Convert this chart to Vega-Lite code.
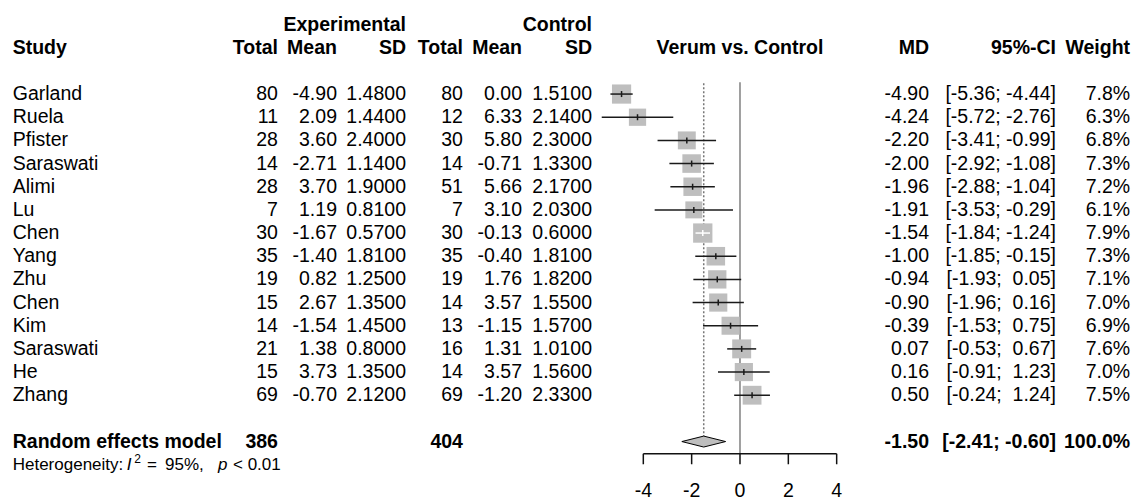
{
  "$schema": "https://vega.github.io/schema/vega-lite/v6.json",
  "width": 1135,
  "height": 501,
  "autosize": {"type": "fit", "contains": "padding"},
  "padding": 0,
  "background": "white",
  "config": {
    "view": {"stroke": null},
    "text": {"font": "Liberation Sans", "fontSize": 19.5, "color": "#000", "baseline": "middle"},
    "locale": {"number": {"decimal": ".", "thousands": ",", "grouping": [3], "currency": ["$", ""], "minus": "-"}}
  },
  "datasets": {
    "studies": [
      {"row": 1, "study": "Garland", "et": 80, "em": -4.90, "es": 1.48, "ct": 80, "cm": 0.00, "cs": 1.51, "md": -4.90, "lo": -5.36, "hi": -4.44, "w": 7.8},
      {"row": 2, "study": "Ruela", "et": 11, "em": 2.09, "es": 1.44, "ct": 12, "cm": 6.33, "cs": 2.14, "md": -4.24, "lo": -5.72, "hi": -2.76, "w": 6.3},
      {"row": 3, "study": "Pfister", "et": 28, "em": 3.60, "es": 2.40, "ct": 30, "cm": 5.80, "cs": 2.30, "md": -2.20, "lo": -3.41, "hi": -0.99, "w": 6.8},
      {"row": 4, "study": "Saraswati", "et": 14, "em": -2.71, "es": 1.14, "ct": 14, "cm": -0.71, "cs": 1.33, "md": -2.00, "lo": -2.92, "hi": -1.08, "w": 7.3},
      {"row": 5, "study": "Alimi", "et": 28, "em": 3.70, "es": 1.90, "ct": 51, "cm": 5.66, "cs": 2.17, "md": -1.96, "lo": -2.88, "hi": -1.04, "w": 7.2},
      {"row": 6, "study": "Lu", "et": 7, "em": 1.19, "es": 0.81, "ct": 7, "cm": 3.10, "cs": 2.03, "md": -1.91, "lo": -3.53, "hi": -0.29, "w": 6.1},
      {"row": 7, "study": "Chen", "et": 30, "em": -1.67, "es": 0.57, "ct": 30, "cm": -0.13, "cs": 0.60, "md": -1.54, "lo": -1.84, "hi": -1.24, "w": 7.9},
      {"row": 8, "study": "Yang", "et": 35, "em": -1.40, "es": 1.81, "ct": 35, "cm": -0.40, "cs": 1.81, "md": -1.00, "lo": -1.85, "hi": -0.15, "w": 7.3},
      {"row": 9, "study": "Zhu", "et": 19, "em": 0.82, "es": 1.25, "ct": 19, "cm": 1.76, "cs": 1.82, "md": -0.94, "lo": -1.93, "hi": 0.05, "w": 7.1},
      {"row": 10, "study": "Chen", "et": 15, "em": 2.67, "es": 1.35, "ct": 14, "cm": 3.57, "cs": 1.55, "md": -0.90, "lo": -1.96, "hi": 0.16, "w": 7.0},
      {"row": 11, "study": "Kim", "et": 14, "em": -1.54, "es": 1.45, "ct": 13, "cm": -1.15, "cs": 1.57, "md": -0.39, "lo": -1.53, "hi": 0.75, "w": 6.9},
      {"row": 12, "study": "Saraswati", "et": 21, "em": 1.38, "es": 0.80, "ct": 16, "cm": 1.31, "cs": 1.01, "md": 0.07, "lo": -0.53, "hi": 0.67, "w": 7.6},
      {"row": 13, "study": "He", "et": 15, "em": 3.73, "es": 1.35, "ct": 14, "cm": 3.57, "cs": 1.56, "md": 0.16, "lo": -0.91, "hi": 1.23, "w": 7.0},
      {"row": 14, "study": "Zhang", "et": 69, "em": -0.70, "es": 2.12, "ct": 69, "cm": -1.20, "cs": 2.33, "md": 0.50, "lo": -0.24, "hi": 1.24, "w": 7.5}
    ],
    "pooled": [{"et": 386, "ct": 404, "md": -1.50, "lo": -2.41, "hi": -0.60, "w": 100}],
    "ticks": [{"v": -4}, {"v": -2}, {"v": 0}, {"v": 2}, {"v": 4}],
    "one": [{}]
  },
  "layer": [
    {"data": {"name": "one"}, "mark": {"type": "text", "text": "Experimental", "align": "right", "fontWeight": "bold"},
     "encoding": {"x": {"datum": -13.819, "type": "quantitative", "scale": {"domain": [-30.616, 16.343], "nice": false, "zero": false}, "axis": null},
                  "y": {"datum": -2, "type": "quantitative", "scale": {"domain": [-3.06, 18.35], "nice": false, "zero": false, "reverse": true}, "axis": null}}},
    {"data": {"name": "one"}, "mark": {"type": "text", "text": "Control", "align": "right", "fontWeight": "bold"},
     "encoding": {"x": {"datum": -6.123, "type": "quantitative", "scale": {"domain": [-30.616, 16.343], "nice": false, "zero": false}, "axis": null},
                  "y": {"datum": -2, "type": "quantitative", "scale": {"domain": [-3.06, 18.35], "nice": false, "zero": false, "reverse": true}, "axis": null}}},
    {"data": {"name": "one"}, "mark": {"type": "text", "text": "Study", "align": "left", "fontWeight": "bold"},
     "encoding": {"x": {"datum": -30.09, "type": "quantitative", "scale": {"domain": [-30.616, 16.343], "nice": false, "zero": false}, "axis": null},
                  "y": {"datum": -1, "type": "quantitative", "scale": {"domain": [-3.06, 18.35], "nice": false, "zero": false, "reverse": true}, "axis": null}}},
    {"data": {"name": "one"}, "mark": {"type": "text", "text": "Total", "align": "right", "fontWeight": "bold"},
     "encoding": {"x": {"datum": -19.115, "type": "quantitative", "scale": {"domain": [-30.616, 16.343], "nice": false, "zero": false}, "axis": null},
                  "y": {"datum": -1, "type": "quantitative", "scale": {"domain": [-3.06, 18.35], "nice": false, "zero": false, "reverse": true}, "axis": null}}},
    {"data": {"name": "one"}, "mark": {"type": "text", "text": "Mean", "align": "right", "fontWeight": "bold"},
     "encoding": {"x": {"datum": -16.674, "type": "quantitative", "scale": {"domain": [-30.616, 16.343], "nice": false, "zero": false}, "axis": null},
                  "y": {"datum": -1, "type": "quantitative", "scale": {"domain": [-3.06, 18.35], "nice": false, "zero": false, "reverse": true}, "axis": null}}},
    {"data": {"name": "one"}, "mark": {"type": "text", "text": "SD", "align": "right", "fontWeight": "bold"},
     "encoding": {"x": {"datum": -13.819, "type": "quantitative", "scale": {"domain": [-30.616, 16.343], "nice": false, "zero": false}, "axis": null},
                  "y": {"datum": -1, "type": "quantitative", "scale": {"domain": [-3.06, 18.35], "nice": false, "zero": false, "reverse": true}, "axis": null}}},
    {"data": {"name": "one"}, "mark": {"type": "text", "text": "Total", "align": "right", "fontWeight": "bold"},
     "encoding": {"x": {"datum": -11.461, "type": "quantitative", "scale": {"domain": [-30.616, 16.343], "nice": false, "zero": false}, "axis": null},
                  "y": {"datum": -1, "type": "quantitative", "scale": {"domain": [-3.06, 18.35], "nice": false, "zero": false, "reverse": true}, "axis": null}}},
    {"data": {"name": "one"}, "mark": {"type": "text", "text": "Mean", "align": "right", "fontWeight": "bold"},
     "encoding": {"x": {"datum": -9.019, "type": "quantitative", "scale": {"domain": [-30.616, 16.343], "nice": false, "zero": false}, "axis": null},
                  "y": {"datum": -1, "type": "quantitative", "scale": {"domain": [-3.06, 18.35], "nice": false, "zero": false, "reverse": true}, "axis": null}}},
    {"data": {"name": "one"}, "mark": {"type": "text", "text": "SD", "align": "right", "fontWeight": "bold"},
     "encoding": {"x": {"datum": -6.123, "type": "quantitative", "scale": {"domain": [-30.616, 16.343], "nice": false, "zero": false}, "axis": null},
                  "y": {"datum": -1, "type": "quantitative", "scale": {"domain": [-3.06, 18.35], "nice": false, "zero": false, "reverse": true}, "axis": null}}},
    {"data": {"name": "one"}, "mark": {"type": "text", "text": "Verum vs. Control", "align": "center", "fontWeight": "bold"},
     "encoding": {"x": {"datum": 0, "type": "quantitative", "scale": {"domain": [-30.616, 16.343], "nice": false, "zero": false}, "axis": null},
                  "y": {"datum": -1, "type": "quantitative", "scale": {"domain": [-3.06, 18.35], "nice": false, "zero": false, "reverse": true}, "axis": null}}},
    {"data": {"name": "one"}, "mark": {"type": "text", "text": "MD", "align": "right", "fontWeight": "bold"},
     "encoding": {"x": {"datum": 7.82, "type": "quantitative", "scale": {"domain": [-30.616, 16.343], "nice": false, "zero": false}, "axis": null},
                  "y": {"datum": -1, "type": "quantitative", "scale": {"domain": [-3.06, 18.35], "nice": false, "zero": false, "reverse": true}, "axis": null}}},
    {"data": {"name": "one"}, "mark": {"type": "text", "text": "95%-CI", "align": "right", "fontWeight": "bold"},
     "encoding": {"x": {"datum": 13.074, "type": "quantitative", "scale": {"domain": [-30.616, 16.343], "nice": false, "zero": false}, "axis": null},
                  "y": {"datum": -1, "type": "quantitative", "scale": {"domain": [-3.06, 18.35], "nice": false, "zero": false, "reverse": true}, "axis": null}}},
    {"data": {"name": "one"}, "mark": {"type": "text", "text": "Weight", "align": "right", "fontWeight": "bold"},
     "encoding": {"x": {"datum": 16.14, "type": "quantitative", "scale": {"domain": [-30.616, 16.343], "nice": false, "zero": false}, "axis": null},
                  "y": {"datum": -1, "type": "quantitative", "scale": {"domain": [-3.06, 18.35], "nice": false, "zero": false, "reverse": true}, "axis": null}}},

    {"data": {"name": "studies"}, "mark": {"type": "text", "align": "left"},
     "encoding": {"x": {"datum": -30.09, "type": "quantitative", "scale": {"domain": [-30.616, 16.343], "nice": false, "zero": false}, "axis": null},
                  "y": {"field": "row", "type": "quantitative", "scale": {"domain": [-3.06, 18.35], "nice": false, "zero": false, "reverse": true}, "axis": null},
                  "text": {"field": "study"}}},
    {"data": {"name": "studies"}, "mark": {"type": "text", "align": "right"},
     "encoding": {"x": {"datum": -19.115, "type": "quantitative", "scale": {"domain": [-30.616, 16.343], "nice": false, "zero": false}, "axis": null},
                  "y": {"field": "row", "type": "quantitative", "scale": {"domain": [-3.06, 18.35], "nice": false, "zero": false, "reverse": true}, "axis": null},
                  "text": {"field": "et", "type": "quantitative", "format": "d"}}},
    {"data": {"name": "studies"}, "mark": {"type": "text", "align": "right"},
     "encoding": {"x": {"datum": -16.674, "type": "quantitative", "scale": {"domain": [-30.616, 16.343], "nice": false, "zero": false}, "axis": null},
                  "y": {"field": "row", "type": "quantitative", "scale": {"domain": [-3.06, 18.35], "nice": false, "zero": false, "reverse": true}, "axis": null},
                  "text": {"field": "em", "type": "quantitative", "format": ".2f"}}},
    {"data": {"name": "studies"}, "mark": {"type": "text", "align": "right"},
     "encoding": {"x": {"datum": -13.819, "type": "quantitative", "scale": {"domain": [-30.616, 16.343], "nice": false, "zero": false}, "axis": null},
                  "y": {"field": "row", "type": "quantitative", "scale": {"domain": [-3.06, 18.35], "nice": false, "zero": false, "reverse": true}, "axis": null},
                  "text": {"field": "es", "type": "quantitative", "format": ".4f"}}},
    {"data": {"name": "studies"}, "mark": {"type": "text", "align": "right"},
     "encoding": {"x": {"datum": -11.461, "type": "quantitative", "scale": {"domain": [-30.616, 16.343], "nice": false, "zero": false}, "axis": null},
                  "y": {"field": "row", "type": "quantitative", "scale": {"domain": [-3.06, 18.35], "nice": false, "zero": false, "reverse": true}, "axis": null},
                  "text": {"field": "ct", "type": "quantitative", "format": "d"}}},
    {"data": {"name": "studies"}, "mark": {"type": "text", "align": "right"},
     "encoding": {"x": {"datum": -9.019, "type": "quantitative", "scale": {"domain": [-30.616, 16.343], "nice": false, "zero": false}, "axis": null},
                  "y": {"field": "row", "type": "quantitative", "scale": {"domain": [-3.06, 18.35], "nice": false, "zero": false, "reverse": true}, "axis": null},
                  "text": {"field": "cm", "type": "quantitative", "format": ".2f"}}},
    {"data": {"name": "studies"}, "mark": {"type": "text", "align": "right"},
     "encoding": {"x": {"datum": -6.123, "type": "quantitative", "scale": {"domain": [-30.616, 16.343], "nice": false, "zero": false}, "axis": null},
                  "y": {"field": "row", "type": "quantitative", "scale": {"domain": [-3.06, 18.35], "nice": false, "zero": false, "reverse": true}, "axis": null},
                  "text": {"field": "cs", "type": "quantitative", "format": ".4f"}}},
    {"data": {"name": "studies"}, "mark": {"type": "text", "align": "right"},
     "encoding": {"x": {"datum": 7.82, "type": "quantitative", "scale": {"domain": [-30.616, 16.343], "nice": false, "zero": false}, "axis": null},
                  "y": {"field": "row", "type": "quantitative", "scale": {"domain": [-3.06, 18.35], "nice": false, "zero": false, "reverse": true}, "axis": null},
                  "text": {"field": "md", "type": "quantitative", "format": ".2f"}}},
    {"data": {"name": "studies"},
     "transform": [{"calculate": "'[' + format(datum.lo, '.2f') + ';' + (datum.hi < 0 ? ' ' : ' \u00a0') + format(datum.hi, '.2f') + ']'", "as": "cilabel"}],
     "mark": {"type": "text", "align": "right"},
     "encoding": {"x": {"datum": 13.074, "type": "quantitative", "scale": {"domain": [-30.616, 16.343], "nice": false, "zero": false}, "axis": null},
                  "y": {"field": "row", "type": "quantitative", "scale": {"domain": [-3.06, 18.35], "nice": false, "zero": false, "reverse": true}, "axis": null},
                  "text": {"field": "cilabel"}}},
    {"data": {"name": "studies"},
     "transform": [{"calculate": "format(datum.w, '.1f') + '%'", "as": "wlabel"}],
     "mark": {"type": "text", "align": "right"},
     "encoding": {"x": {"datum": 16.14, "type": "quantitative", "scale": {"domain": [-30.616, 16.343], "nice": false, "zero": false}, "axis": null},
                  "y": {"field": "row", "type": "quantitative", "scale": {"domain": [-3.06, 18.35], "nice": false, "zero": false, "reverse": true}, "axis": null},
                  "text": {"field": "wlabel"}}},

    {"data": {"name": "one"}, "mark": {"type": "text", "text": "Random effects model", "align": "left", "fontWeight": "bold"},
     "encoding": {"x": {"datum": -30.09, "type": "quantitative", "scale": {"domain": [-30.616, 16.343], "nice": false, "zero": false}, "axis": null},
                  "y": {"datum": 16, "type": "quantitative", "scale": {"domain": [-3.06, 18.35], "nice": false, "zero": false, "reverse": true}, "axis": null}}},
    {"data": {"name": "pooled"}, "mark": {"type": "text", "align": "right", "fontWeight": "bold"},
     "encoding": {"x": {"datum": -19.115, "type": "quantitative", "scale": {"domain": [-30.616, 16.343], "nice": false, "zero": false}, "axis": null},
                  "y": {"datum": 16, "type": "quantitative", "scale": {"domain": [-3.06, 18.35], "nice": false, "zero": false, "reverse": true}, "axis": null},
                  "text": {"field": "et", "type": "quantitative", "format": "d"}}},
    {"data": {"name": "pooled"}, "mark": {"type": "text", "align": "right", "fontWeight": "bold"},
     "encoding": {"x": {"datum": -11.461, "type": "quantitative", "scale": {"domain": [-30.616, 16.343], "nice": false, "zero": false}, "axis": null},
                  "y": {"datum": 16, "type": "quantitative", "scale": {"domain": [-3.06, 18.35], "nice": false, "zero": false, "reverse": true}, "axis": null},
                  "text": {"field": "ct", "type": "quantitative", "format": "d"}}},
    {"data": {"name": "pooled"}, "mark": {"type": "text", "align": "right", "fontWeight": "bold"},
     "encoding": {"x": {"datum": 7.82, "type": "quantitative", "scale": {"domain": [-30.616, 16.343], "nice": false, "zero": false}, "axis": null},
                  "y": {"datum": 16, "type": "quantitative", "scale": {"domain": [-3.06, 18.35], "nice": false, "zero": false, "reverse": true}, "axis": null},
                  "text": {"field": "md", "type": "quantitative", "format": ".2f"}}},
    {"data": {"name": "pooled"},
     "transform": [{"calculate": "'[' + format(datum.lo, '.2f') + ';' + (datum.hi < 0 ? ' ' : ' \u00a0') + format(datum.hi, '.2f') + ']'", "as": "cilabel"}],
     "mark": {"type": "text", "align": "right", "fontWeight": "bold"},
     "encoding": {"x": {"datum": 13.074, "type": "quantitative", "scale": {"domain": [-30.616, 16.343], "nice": false, "zero": false}, "axis": null},
                  "y": {"datum": 16, "type": "quantitative", "scale": {"domain": [-3.06, 18.35], "nice": false, "zero": false, "reverse": true}, "axis": null},
                  "text": {"field": "cilabel"}}},
    {"data": {"name": "pooled"},
     "transform": [{"calculate": "format(datum.w, '.1f') + '%'", "as": "wlabel"}],
     "mark": {"type": "text", "align": "right", "fontWeight": "bold"},
     "encoding": {"x": {"datum": 16.14, "type": "quantitative", "scale": {"domain": [-30.616, 16.343], "nice": false, "zero": false}, "axis": null},
                  "y": {"datum": 16, "type": "quantitative", "scale": {"domain": [-3.06, 18.35], "nice": false, "zero": false, "reverse": true}, "axis": null},
                  "text": {"field": "wlabel"}}},

    {"data": {"name": "one"}, "mark": {"type": "text", "text": "Heterogeneity:", "align": "left", "fontSize": 17},
     "encoding": {"x": {"datum": -30.09, "type": "quantitative", "scale": {"domain": [-30.616, 16.343], "nice": false, "zero": false}, "axis": null},
                  "y": {"datum": 17, "type": "quantitative", "scale": {"domain": [-3.06, 18.35], "nice": false, "zero": false, "reverse": true}, "axis": null}}},
    {"data": {"name": "one"}, "mark": {"type": "text", "text": "I", "align": "left", "fontSize": 17, "fontStyle": "italic"},
     "encoding": {"x": {"datum": -25.37, "type": "quantitative", "scale": {"domain": [-30.616, 16.343], "nice": false, "zero": false}, "axis": null},
                  "y": {"datum": 17, "type": "quantitative", "scale": {"domain": [-3.06, 18.35], "nice": false, "zero": false, "reverse": true}, "axis": null}}},
    {"data": {"name": "one"}, "mark": {"type": "text", "text": "2", "align": "left", "fontSize": 12},
     "encoding": {"x": {"datum": -25.06, "type": "quantitative", "scale": {"domain": [-30.616, 16.343], "nice": false, "zero": false}, "axis": null},
                  "y": {"datum": 16.74, "type": "quantitative", "scale": {"domain": [-3.06, 18.35], "nice": false, "zero": false, "reverse": true}, "axis": null}}},
    {"data": {"name": "one"}, "mark": {"type": "text", "text": "=", "align": "left", "fontSize": 17},
     "encoding": {"x": {"datum": -24.535, "type": "quantitative", "scale": {"domain": [-30.616, 16.343], "nice": false, "zero": false}, "axis": null},
                  "y": {"datum": 17, "type": "quantitative", "scale": {"domain": [-3.06, 18.35], "nice": false, "zero": false, "reverse": true}, "axis": null}}},
    {"data": {"name": "one"}, "mark": {"type": "text", "text": "95%,", "align": "left", "fontSize": 17},
     "encoding": {"x": {"datum": -23.79, "type": "quantitative", "scale": {"domain": [-30.616, 16.343], "nice": false, "zero": false}, "axis": null},
                  "y": {"datum": 17, "type": "quantitative", "scale": {"domain": [-3.06, 18.35], "nice": false, "zero": false, "reverse": true}, "axis": null}}},
    {"data": {"name": "one"}, "mark": {"type": "text", "text": "p", "align": "left", "fontSize": 17, "fontStyle": "italic"},
     "encoding": {"x": {"datum": -21.597, "type": "quantitative", "scale": {"domain": [-30.616, 16.343], "nice": false, "zero": false}, "axis": null},
                  "y": {"datum": 17, "type": "quantitative", "scale": {"domain": [-3.06, 18.35], "nice": false, "zero": false, "reverse": true}, "axis": null}}},
    {"data": {"name": "one"}, "mark": {"type": "text", "text": "< 0.01", "align": "left", "fontSize": 17},
     "encoding": {"x": {"datum": -20.977, "type": "quantitative", "scale": {"domain": [-30.616, 16.343], "nice": false, "zero": false}, "axis": null},
                  "y": {"datum": 17, "type": "quantitative", "scale": {"domain": [-3.06, 18.35], "nice": false, "zero": false, "reverse": true}, "axis": null}}},

    {"data": {"name": "one"}, "mark": {"type": "rule", "color": "#808080", "strokeWidth": 1.5},
     "encoding": {"x": {"datum": 0, "type": "quantitative", "scale": {"domain": [-30.616, 16.343], "nice": false, "zero": false}, "axis": null},
                  "y": {"datum": 0.49, "type": "quantitative", "scale": {"domain": [-3.06, 18.35], "nice": false, "zero": false, "reverse": true}, "axis": null},
                  "y2": {"datum": 16.526}}},
    {"data": {"name": "one"}, "mark": {"type": "rule", "color": "#777777", "strokeWidth": 1.5, "strokeDash": [2, 2]},
     "encoding": {"x": {"datum": -1.5, "type": "quantitative", "scale": {"domain": [-30.616, 16.343], "nice": false, "zero": false}, "axis": null},
                  "y": {"datum": 0.53, "type": "quantitative", "scale": {"domain": [-3.06, 18.35], "nice": false, "zero": false, "reverse": true}, "axis": null},
                  "y2": {"datum": 15.79}}},
    {"data": {"name": "studies"}, "mark": {"type": "point", "shape": "square", "filled": true, "color": "#bebebe", "opacity": 1},
     "encoding": {"x": {"field": "md", "type": "quantitative", "scale": {"domain": [-30.616, 16.343], "nice": false, "zero": false}, "axis": null},
                  "y": {"field": "row", "type": "quantitative", "scale": {"domain": [-3.06, 18.35], "nice": false, "zero": false, "reverse": true}, "axis": null},
                  "size": {"field": "w", "type": "quantitative", "scale": {"type": "linear", "domain": [0, 10], "range": [0, 472], "zero": true}, "legend": null}}},
    {"data": {"name": "studies"}, "mark": {"type": "rule", "strokeWidth": 1.5},
     "encoding": {"x": {"field": "lo", "type": "quantitative", "scale": {"domain": [-30.616, 16.343], "nice": false, "zero": false}, "axis": null},
                  "x2": {"field": "hi"},
                  "y": {"field": "row", "type": "quantitative", "scale": {"domain": [-3.06, 18.35], "nice": false, "zero": false, "reverse": true}, "axis": null},
                  "color": {"condition": {"test": "(datum.hi - datum.lo) * 24.17 < sqrt(datum.w * 47.2)", "value": "white"}, "value": "#1a1a1a"}}},
    {"data": {"name": "studies"}, "mark": {"type": "point", "shape": "M0,-1L0,1", "size": 36, "filled": false, "strokeWidth": 1.5, "opacity": 1},
     "encoding": {"x": {"field": "md", "type": "quantitative", "scale": {"domain": [-30.616, 16.343], "nice": false, "zero": false}, "axis": null},
                  "y": {"field": "row", "type": "quantitative", "scale": {"domain": [-3.06, 18.35], "nice": false, "zero": false, "reverse": true}, "axis": null},
                  "color": {"condition": {"test": "(datum.hi - datum.lo) * 24.17 < sqrt(datum.w * 47.2)", "value": "white"}, "value": "#1a1a1a"}}},
    {"data": {"name": "pooled"}, "mark": {"type": "point", "shape": "M-1,0L0,-0.25L1,0L0,0.25Z", "size": 1918, "filled": true, "fill": "#bebebe", "stroke": "#000000", "strokeWidth": 1, "opacity": 1},
     "encoding": {"x": {"field": "md", "type": "quantitative", "scale": {"domain": [-30.616, 16.343], "nice": false, "zero": false}, "axis": null},
                  "y": {"datum": 16, "type": "quantitative", "scale": {"domain": [-3.06, 18.35], "nice": false, "zero": false, "reverse": true}, "axis": null}}},
    {"data": {"name": "one"}, "mark": {"type": "rule", "color": "#111111", "strokeWidth": 1.5},
     "encoding": {"x": {"datum": -4, "type": "quantitative", "scale": {"domain": [-30.616, 16.343], "nice": false, "zero": false}, "axis": null},
                  "x2": {"datum": 4},
                  "y": {"datum": 16.526, "type": "quantitative", "scale": {"domain": [-3.06, 18.35], "nice": false, "zero": false, "reverse": true}, "axis": null}}},
    {"data": {"name": "ticks"}, "mark": {"type": "rule", "color": "#111111", "strokeWidth": 1.5},
     "encoding": {"x": {"field": "v", "type": "quantitative", "scale": {"domain": [-30.616, 16.343], "nice": false, "zero": false}, "axis": null},
                  "y": {"datum": 16.526, "type": "quantitative", "scale": {"domain": [-3.06, 18.35], "nice": false, "zero": false, "reverse": true}, "axis": null},
                  "y2": {"datum": 16.98}}},
    {"data": {"name": "ticks"}, "mark": {"type": "text", "align": "center"},
     "encoding": {"x": {"field": "v", "type": "quantitative", "scale": {"domain": [-30.616, 16.343], "nice": false, "zero": false}, "axis": null},
                  "y": {"datum": 18.14, "type": "quantitative", "scale": {"domain": [-3.06, 18.35], "nice": false, "zero": false, "reverse": true}, "axis": null},
                  "text": {"field": "v", "type": "quantitative", "format": "d"}}}
  ]
}
